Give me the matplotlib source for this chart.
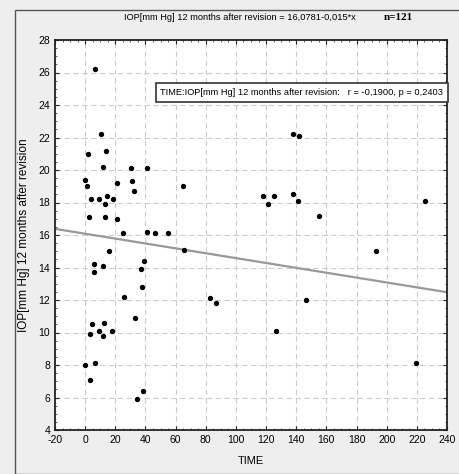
import matplotlib
matplotlib.use("Agg")
import matplotlib.pyplot as plt
import numpy as np
from matplotlib.patches import Rectangle

plt.rcParams['font.family'] = ['Liberation Sans', 'DejaVu Sans']
plt.rcParams['axes.unicode_minus'] = False

# data
time = [6.6, 10.2, 2.2, 13.9, 11.7, 30.5, 40.9, 0, 1.5, 4, 9.5, 14.2, 13.3, 18.4, 21.3,
        31.4, 32.6, 65, 2.4, 13.3, 21.3, 25.3, 40.7, 46.3, 55, 65.6, 15.7, 5.6, 5.6, 11.9,
        39.1, 36.8, 37.7, 25.8, 33, 4.6, 12.6, 3, 9.5, 11.8, 17.7, 0, 6.2, 3, 38.4, 34.6,
        137.7, 141.7, 118.2, 121.4, 125.3, 138, 141, 155.2, 225.5, 193.2, 82.7, 86.7,
        146.6, 126.9, 219.6]
iop = [26.2, 22.2, 21.0, 21.2, 20.2, 20.1, 20.1, 19.4, 19.0, 18.2, 18.2, 18.4, 17.9, 18.2, 19.2,
       19.3, 18.7, 19.0, 17.1, 17.1, 17.0, 16.1, 16.2, 16.1, 16.1, 15.1, 15.0, 14.2, 13.7, 14.1,
       14.4, 13.9, 12.8, 12.2, 10.9, 10.5, 10.6, 9.9, 10.1, 9.8, 10.1, 8.0, 8.1, 7.1, 6.4, 5.9,
       22.2, 22.1, 18.4, 17.9, 18.4, 18.5, 18.1, 17.2, 18.1, 15.0, 12.1, 11.8,
       12.0, 10.1, 8.1]
intercept = 16.0781
slope = -0.015
x_ticks = list(range(-20, 241, 20))
y_ticks = list(range(4, 29, 2))

fig = plt.figure(figsize=(4.6, 4.74), dpi=100, facecolor='#eeeeee')
fig.patches.append(Rectangle((15/460, 0), 1, 1 - 10/474, transform=fig.transFigure,
                             fill=False, edgecolor='#555555', linewidth=1.0))
ax = fig.add_axes([55/460, 44/474, 392/460, 390/474])
ax.set_facecolor('white')
ax.set_xlim(-20, 240)
ax.set_ylim(4, 28)
ax.set_xticks(x_ticks)
ax.set_yticks(y_ticks)
ax.set_xticks(np.arange(-20, 241, 5), minor=True)
ax.set_yticks(np.arange(4, 28.1, 0.5), minor=True)
ax.tick_params(which='major', direction='in', length=3, width=0.8, labelsize=7.5, color='#222222')
ax.tick_params(which='minor', direction='in', length=1.5, width=0.6, color='#444444')
ax.tick_params(axis='both', which='both', top=True, right=True)
ax.grid(True, which='major', linestyle=(0, (5, 3)), color='#cccccc', linewidth=0.8)
for s in ax.spines.values():
    s.set_linewidth(1.3)
    s.set_color('#222222')

xs = np.array([-20, 240])
ax.plot(xs, intercept + slope * xs, color='#999999', linewidth=1.6, zorder=2)
ax.scatter(time, iop, s=8, color='black', zorder=3)

ax.set_xlabel('TIME', fontsize=8, labelpad=8)
ax.set_ylabel('IOP[mm Hg] 12 months after revision', fontsize=8.5, labelpad=6)

fig.text(240/460, 1 - 18/474, 'IOP[mm Hg] 12 months after revision = 16,0781-0,015*x',
         ha='center', va='center', fontsize=6.7)
fig.text(398/460, 1 - 18/474, 'n=121', ha='center', va='center', fontsize=8,
         family='Liberation Serif', fontweight='bold')

ax.text(0.99, 0.865, 'TIME:IOP[mm Hg] 12 months after revision:   r = -0,1900, p = 0,2403',
        transform=ax.transAxes, ha='right', va='center', fontsize=6.7,
        bbox=dict(boxstyle='square,pad=0.5', facecolor='white', edgecolor='#333333', linewidth=1.2),
        zorder=5)

fig.savefig('out.png', dpi=100, facecolor=fig.get_facecolor())
